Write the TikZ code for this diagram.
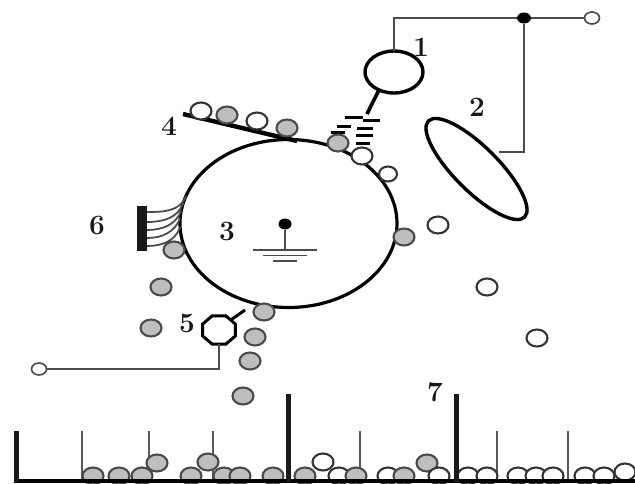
\documentclass[tikz,border=0pt]{standalone}
\usepackage{tikz}
\usetikzlibrary{shapes.geometric}
\definecolor{tonergray}{HTML}{BEBEBE}
\definecolor{edgegray}{HTML}{4A4A4A}

\begin{document}
\begin{tikzpicture}[
  x=1pt, y=-1pt,
  every node/.style={inner sep=0pt, outer sep=0pt},
  toner/.style={ellipse, draw=edgegray, line width=2.1pt, fill=tonergray, minimum width=21pt, minimum height=17pt},
  carrier/.style={ellipse, draw=edgegray!70!black, line width=2.1pt, fill=white, minimum width=21pt, minimum height=17pt},
  terminal/.style={ellipse, draw=edgegray, line width=1.6pt, fill=white, minimum width=15pt, minimum height=12pt},
  num/.style={font=\fontsize{28}{28}\selectfont\bfseries, text=black!90},
  wire/.style={draw=black!70, line width=1.8pt},
  thick post/.style={draw=black!90, line width=5pt},
  thin post/.style={draw=black!65, line width=1.8pt},
  charge/.style={draw=black, line width=3pt}
]
\useasboundingbox (0,0) rectangle (635,483);

% Drum with grounded core
\node[ellipse, draw=black, line width=3.2pt, minimum width=217pt, minimum height=168pt] (drum) at (288.5,223.5) {};
\node[num] (n3) at (227,231) {3};
\node[ellipse, fill=black, minimum width=13pt, minimum height=11pt] (core) at (285,224) {};
\coordinate (gnd) at (285,250);
\coordinate (gnd1l) at (253,250);
\coordinate (gnd1r) at (317,250);
\coordinate (gnd2l) at (263,255.5);
\coordinate (gnd2r) at (307,255.5);
\coordinate (gnd3l) at (273,261);
\coordinate (gnd3r) at (297,261);
\draw[wire] (core) -- (gnd);
\draw[wire] (gnd1l) -- (gnd1r);
\draw[wire] (gnd2l) -- (gnd2r);
\draw[wire] (gnd3l) -- (gnd3r);

% Charger 1 and its supply
\node[ellipse, draw=black, line width=3.4pt, minimum width=58pt, minimum height=42pt] (charger) at (394,72) {};
\node[num] (n1) at (421,47) {1};
\node[ellipse, fill=black, minimum width=14pt, minimum height=11pt] (junction) at (524,18) {};
\node[terminal] (topend) at (592,18) {};
\coordinate (chargertip) at (367,114);
\draw[wire] (charger.north) |- (junction);
\draw[wire] (junction) -- (topend);
\draw[draw=black, line width=3.6pt] (charger.230) -- (chargertip);

% Charge marks under the charger
\draw[charge] (345,117) -- (363,117);
\draw[charge] (363,120) -- (380,120);
\draw[charge] (337,126) -- (351,126);
\draw[charge] (331,132) -- (345,132);
\draw[charge] (357,128) -- (373,128);
\draw[charge] (356,135) -- (373,135);
\draw[charge] (356,143) -- (370,143);

% Transfer electrode 2
\node[ellipse, draw=black, line width=3.4pt, minimum width=136pt, minimum height=44pt, rotate=-45] (electrode) at (476.5,169) {};
\node[num] (n2) at (477,107) {2};
\coordinate (tap) at (499,152);
\draw[wire] (junction) |- (tap);

% Blade 4
\coordinate (bladel) at (183,114);
\coordinate (blader) at (297,141);
\draw[draw=black, line width=4.4pt] (bladel) -- (blader);
\node[num] (n4) at (169,126) {4};

% Comb 6
\node[fill=black!90, minimum width=10pt, minimum height=45pt] (comb) at (142,228.5) {};
\node[num] (n6) at (97,225) {6};
\foreach \i/\y/\a in {1/212/165, 2/222/169, 3/230/173, 4/238/177, 5/246/182} {
  \coordinate (w\i) at (147,\y);
  \draw[wire] (w\i) to[out=0, in=250] (drum.\a);
}

% Cleaner 5
\node[regular polygon, regular polygon sides=8, draw=black, line width=3pt, minimum size=34pt, xscale=1.05, yscale=0.9] (cleaner) at (219,330) {};
\node[num] (n5) at (187,323) {5};
\node[terminal] (leftend) at (39,369) {};
\coordinate (stick) at (245,310);
\draw[charge] (cleaner.45) -- (stick);
\draw[wire] (cleaner.south) |- (leftend);

% Thin posts stand behind the particles
\foreach \x in {82, 149, 213, 360, 497, 568} {
  \coordinate (thin top) at (\x,431);
  \coordinate (thin foot) at (\x,481);
  \draw[thin post] (thin top) -- (thin foot);
}

% Particles on the blade
\node[carrier] (b1) at (201,111) {};
\node[toner] (b2) at (227,115) {};
\node[carrier] (b3) at (257,121) {};
\node[toner] (b4) at (287,128) {};

% Particles on the drum and in flight
\node[toner] (d1) at (338,143) {};
\node[carrier] (d2) at (362,156) {};
\node[carrier, minimum width=18pt, minimum height=15pt] (d3) at (388,174) {};
\node[toner] (d4) at (404,237) {};
\node[toner] (d5) at (174,250) {};
\node[toner] (d6) at (264,312) {};
\node[carrier] (f1) at (438,225) {};
\node[carrier] (f2) at (487,287) {};
\node[carrier] (f3) at (537,338) {};
\node[toner] (f4) at (161,287) {};
\node[toner] (f5) at (151,328) {};
\node[toner] (f6) at (255,337) {};
\node[toner] (f7) at (250,361) {};
\node[toner] (f8) at (243,396) {};

% Particles in the cells
\node[toner] (c1) at (93,476) {};
\node[toner] (c2) at (119,476) {};
\node[toner] (c3) at (142,476) {};
\node[toner] (c4) at (157,463) {};
\node[toner] (c5) at (191,476) {};
\node[toner] (c6) at (224,476) {};
\node[toner] (c7) at (240,476) {};
\node[toner] (c8) at (208,462) {};
\node[toner] (c9) at (273,476) {};
\node[toner] (c10) at (305,476) {};
\node[carrier] (c11) at (323,462) {};
\node[carrier] (c12) at (339,476) {};
\node[toner] (c13) at (356,476) {};
\node[carrier] (c14) at (388,476) {};
\node[toner] (c15) at (404,476) {};
\node[toner] (c16) at (427,463) {};
\node[carrier] (c17) at (439,476) {};
\node[carrier] (c18) at (468,476) {};
\node[carrier] (c19) at (487,476) {};
\node[carrier] (c20) at (518,476) {};
\node[carrier] (c21) at (536,476) {};
\node[carrier] (c22) at (553,476) {};
\node[carrier] (c23) at (585,476) {};
\node[carrier] (c24) at (604,476) {};
\node[carrier] (c25) at (625,472) {};

% Tray with its tall posts
\coordinate (trayl) at (14,481);
\coordinate (trayr) at (635,481);
\draw[draw=black, line width=4pt] (trayl) -- (trayr);
\foreach \x/\top in {16/431, 288/394, 456/394} {
  \coordinate (tall top) at (\x,\top);
  \coordinate (tall foot) at (\x,482);
  \draw[thick post] (tall top) -- (tall foot);
}
\node[num] (n7) at (435,392) {7};

\end{tikzpicture}
\end{document}
